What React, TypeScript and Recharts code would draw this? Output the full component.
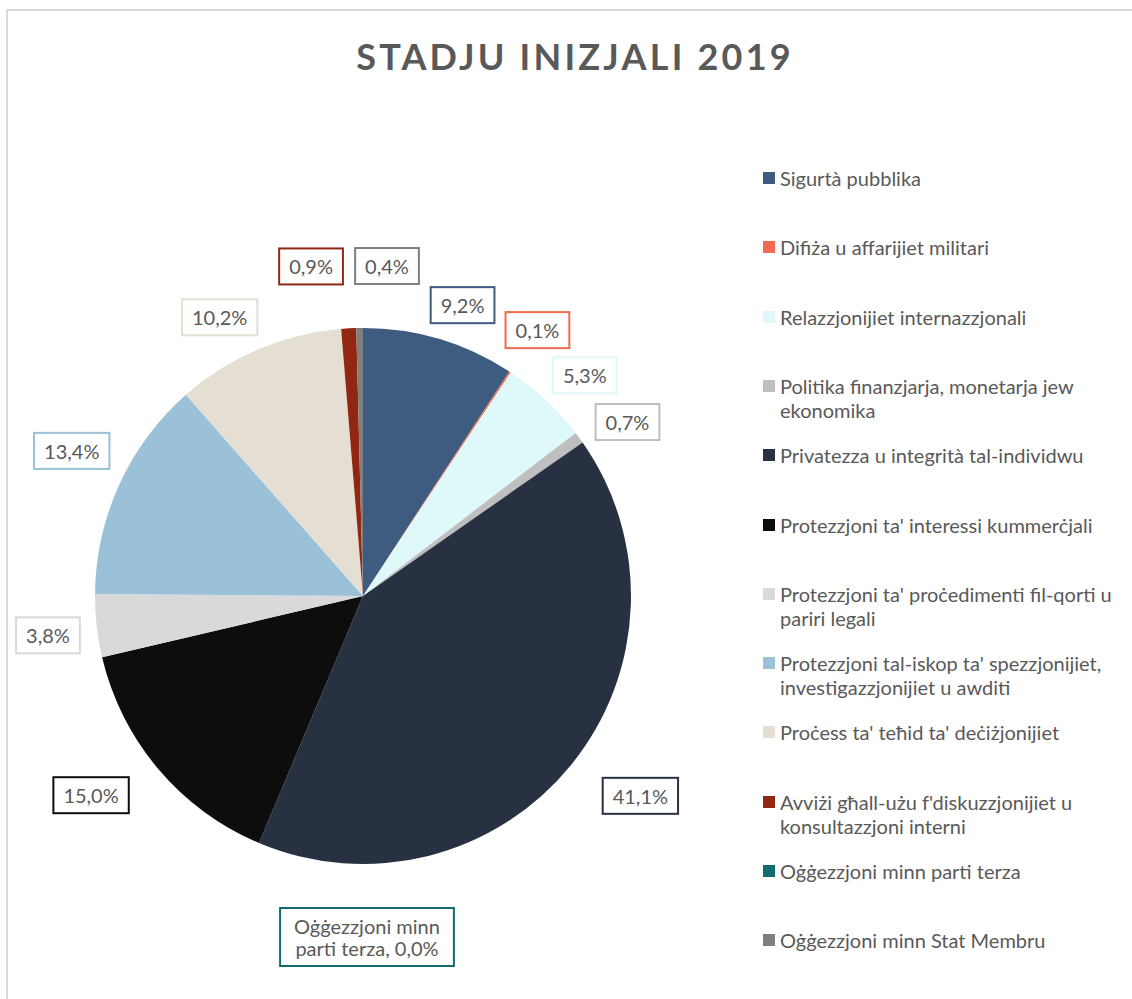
import { PieChart, Pie, Cell, Legend } from 'recharts'

const categories = [
    'Sigurtà pubblika',
    'Difiża u affarijiet militari',
    'Relazzjonijiet internazzjonali',
    'Politika finanzjarja, monetarja jew\nekonomika',
    'Privatezza u integrità tal-individwu',
    "Protezzjoni ta' interessi kummerċjali",
    "Protezzjoni ta' proċedimenti fil-qorti u\npariri legali",
    "Protezzjoni tal-iskop ta' spezzjonijiet,\ninvestigazzjonijiet u awditi",
    "Proċess ta' teħid ta' deċiżjonijiet",
    "Avviżi għall-użu f'diskuzzjonijiet u\nkonsultazzjoni interni",
    'Oġġezzjoni minn parti terza',
    'Oġġezzjoni minn Stat Membru',
]

const shares = [9.2, 0.1, 5.3, 0.7, 41.1, 15.0, 3.8, 13.4, 10.2, 0.9, 0.0, 0.4]

const colors = [
    '#3E5B80', '#F06B50', '#DFF8F9', '#BFBFBF', '#283142', '#0D0D0D',
    '#D9D9D9', '#9BC1D9', '#E4DED3', '#912712', '#136B6D', '#7F7F7F',
]

// small tweaks so the boxes sit where Excel put them
const labelNudge = [
    [9, 14], [0, 0], [5, 12], [8, 14], [30, 0], [-29, -6],
    [1, 4], [-2, -13], [-19, 14], [-35, -12], [0, 0], [28, -12],
]

const data = categories.map((name, i) => ({ name: name.replace('\n', ' '), value: shares[i] }))

const FONT = 'Lato, "Open Sans", sans-serif'
const TEXT = '#595959'
const LBL = 20

const fmt = (v: number) => v.toFixed(1).replace('.', ',') + '%'

let ctx: CanvasRenderingContext2D | null = null
function textWidth(s: string) {
    if (!ctx) ctx = document.createElement('canvas').getContext('2d')
    if (!ctx) return s.length * 10
    ctx.font = `${LBL}px ${FONT}`
    return ctx.measureText(s).width
}

function wrap(s: string, max: number) {
    const out: string[] = []
    let cur = ''
    s.split(' ').forEach(w => {
        if (cur && (cur + ' ' + w).length > max) {
            out.push(cur)
            cur = w
        } else {
            cur = cur ? cur + ' ' + w : w
        }
    })
    if (cur) out.push(cur)
    return out
}

const RAD = Math.PI / 180

function renderLabel(props: any) {
    const { cx, cy, midAngle, outerRadius, index, value } = props
    const color = colors[index]
    let x: number
    let y: number
    let lines: string[]
    let pad = 20
    if (value === 0) {
        lines = wrap(`${data[index].name}, ${fmt(value)}`, 17)
        x = cx + 4
        y = cy + outerRadius + 73
        pad = 28
    } else {
        const r = outerRadius + 50
        x = cx + r * Math.cos(-midAngle * RAD) + labelNudge[index][0]
        y = cy + r * Math.sin(-midAngle * RAD) + labelNudge[index][1]
        lines = [fmt(value)]
    }
    const w = Math.max(...lines.map(textWidth)) + pad
    const h = lines.length * 22 + 14
    return (
        <g key={`lbl-${index}`}>
            <rect x={x - w / 2} y={y - h / 2} width={w} height={h} fill="#fff" stroke={color} strokeWidth={2} />
            <text x={x} y={y - ((lines.length - 1) * 22) / 2} textAnchor="middle" dominantBaseline="central"
                fontFamily={FONT} fontSize={LBL} fill={TEXT}>
                {lines.map((l, i) => (
                    <tspan key={i} x={x} dy={i === 0 ? 0 : 22}>{l}</tspan>
                ))}
            </text>
        </g>
    )
}

function LegendBox() {
    return (
        <div style={{ position: 'relative', width: 370, height: 800, fontFamily: FONT, fontSize: 20, color: TEXT }}>
            {categories.map((c, i) => (
                <div key={c} style={{ position: 'absolute', left: 0, top: i * 69.3, lineHeight: '24px' }}>
                    <span style={{ position: 'absolute', left: 0, top: 6, width: 12, height: 12, background: colors[i] }} />
                    <div style={{ marginLeft: 17, whiteSpace: 'pre' }}>{c}</div>
                </div>
            ))}
        </div>
    )
}

export default function App() {
    return (
        <div style={{ position: 'absolute', left: 0, top: 0, width: 1132, height: 999, overflow: 'hidden', background: '#fff' }}>
            <div style={{ position: 'absolute', left: 6, top: 9, width: 1300, height: 1200, border: '2px solid #D9D9D9' }} />
            <div style={{
                position: 'absolute', left: 0, width: 1150, top: 34, textAlign: 'center',
                fontFamily: FONT, fontWeight: 700, fontSize: 36, letterSpacing: 3.2, color: TEXT,
            }}>
                STADJU INIZJALI 2019
            </div>
            <div style={{ position: 'absolute', left: 0, top: 0 }}>
                <PieChart width={1132} height={999} margin={{ top: 0, right: 0, bottom: 0, left: 0 }}>
                    <Pie
                        data={data}
                        dataKey="value"
                        nameKey="name"
                        cx={363}
                        cy={596}
                        outerRadius={268}
                        startAngle={90}
                        endAngle={-270}
                        stroke="none"
                        label={renderLabel}
                        labelLine={false}
                        isAnimationActive={false}
                    >
                        {data.map((d, i) => (
                            <Cell key={d.name} fill={colors[i]} />
                        ))}
                    </Pie>
                    <Legend
                        layout="vertical"
                        align="center"
                        verticalAlign="middle"
                        content={() => <LegendBox />}
                        wrapperStyle={{ left: 763, top: 166, width: 370 }}
                    />
                </PieChart>
            </div>
        </div>
    )
}
